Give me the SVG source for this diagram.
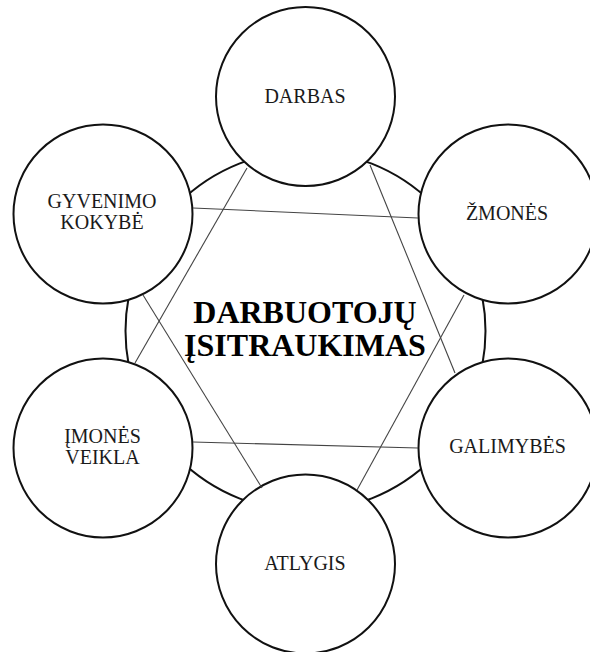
<svg xmlns="http://www.w3.org/2000/svg" width="590" height="652" viewBox="0 0 590 652">
  <style>
    .hub { fill: #ffffff; stroke: #111111; stroke-width: 2; }
    .node circle { fill: #ffffff; stroke: #111111; stroke-width: 2; }
    .node text { font-family: "Liberation Serif", "Times New Roman", serif; font-size: 20px; fill: #1a1a1a; text-anchor: middle; }
    .title { font-family: "Liberation Serif", "Times New Roman", serif; font-size: 32px; font-weight: bold; fill: #000000; text-anchor: middle; }
    .links line { stroke: #444444; stroke-width: 1.1; }
  </style>
  <rect width="590" height="652" fill="#ffffff"/>

  <!-- central circle -->
  <g id="hub">
    <circle class="hub" cx="305.5" cy="331" r="180"/>
  </g>

  <!-- surrounding topics -->
  <g id="darbas" class="node">
    <circle cx="305.5" cy="96.5" r="89.5"/>
    <text x="305" y="103">DARBAS</text>
  </g>
  <g id="zmones" class="node">
    <circle cx="508" cy="214" r="89.5"/>
    <text x="507" y="220">ŽMONĖS</text>
  </g>
  <g id="galimybes" class="node">
    <circle cx="508" cy="448" r="89.5"/>
    <text x="507.5" y="453">GALIMYBĖS</text>
  </g>
  <g id="atlygis" class="node">
    <circle cx="305.5" cy="564" r="89.5"/>
    <text x="305" y="570">ATLYGIS</text>
  </g>
  <g id="imones-veikla" class="node">
    <circle cx="103" cy="448" r="89.5"/>
    <text x="102.5" y="443">ĮMONĖS</text>
    <text x="102.5" y="464">VEIKLA</text>
  </g>
  <g id="gyvenimo-kokybe" class="node">
    <circle cx="103" cy="214" r="89.5"/>
    <text x="102" y="208">GYVENIMO</text>
    <text x="102" y="229">KOKYBĖ</text>
  </g>

  <!-- connectors between the outer topics -->
  <g id="connectors" class="links">
    <line x1="193" y1="208" x2="418" y2="218"/>
    <line x1="193" y1="442" x2="418" y2="448"/>
    <line x1="247" y1="168" x2="135" y2="363"/>
    <line x1="370" y1="165" x2="455" y2="373"/>
    <line x1="143" y1="295" x2="262" y2="488"/>
    <line x1="464" y1="295" x2="357" y2="490"/>
  </g>

  <!-- central label -->
  <g id="hub-label">
    <text class="title" x="305" y="323">DARBUOTOJŲ</text>
    <text class="title" x="305" y="356">ĮSITRAUKIMAS</text>
  </g>
</svg>
